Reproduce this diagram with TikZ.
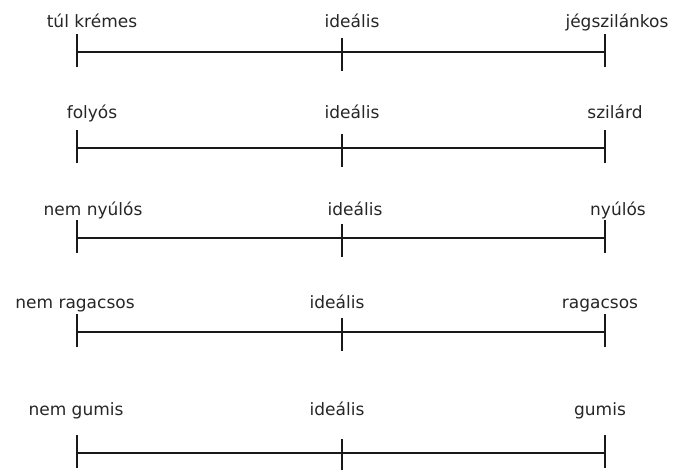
\documentclass[tikz,border=0pt]{standalone}
\usepackage{fontspec}
\setmainfont{DejaVu Sans}
\begin{document}
\begin{tikzpicture}[x=1pt,y=-1pt,
  scalelabel/.style={anchor=base,inner sep=0pt,font=\fontsize{17}{20}\selectfont,text=black!85},
  axis/.style={line width=1.5pt,black!90}]
\useasboundingbox (0,0) rectangle (675,469);
% one rating scale per row: line y, label baseline, left label x/text, middle label x, right label x/text
\foreach \i/\ly/\by/\lx/\ltext/\mx/\rx/\rtext in {
    1/52/27/92/{túl krémes}/352/617/{jégszilánkos},
    2/148/118/92/{folyós}/352/615/{szilárd},
    3/238/215/93/{nem nyúlós}/355/618/{nyúlós},
    4/332/308/75/{nem ragacsos}/337/600/{ragacsos},
    5/453/415/76/{nem gumis}/337/600/{gumis}}{
  \coordinate (l\i) at (77,\ly);
  \coordinate (m\i) at (342,\ly);
  \coordinate (r\i) at (605,\ly);
  \node[scalelabel] (tl\i) at (\lx,\by) {\ltext};
  \node[scalelabel] (tm\i) at (\mx,\by) {ideális};
  \node[scalelabel] (tr\i) at (\rx,\by) {\rtext};
  \draw[axis] (l\i) -- (r\i);
  \draw[axis] ([yshift=18pt]l\i) -- ([yshift=-15pt]l\i);
  \draw[axis] ([yshift=14pt]m\i) -- ([yshift=-19pt]m\i);
  \draw[axis] ([yshift=18pt]r\i) -- ([yshift=-15pt]r\i);
}
\end{tikzpicture}
\end{document}
